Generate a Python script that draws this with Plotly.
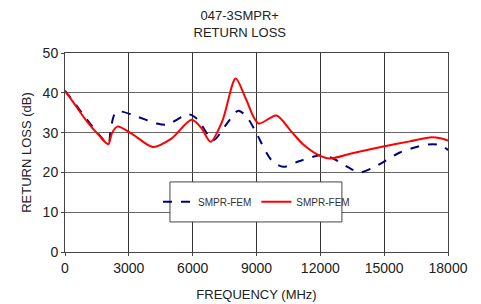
import plotly.graph_objects as go

# Data
blue_freq = [0, 300, 1000, 1600, 2035, 2150, 2350, 2600, 3300, 4300, 4800, 5800, 6200, 6970, 7500, 8150, 8600, 9000, 9700, 10260, 11000, 12000, 12600, 13300, 13860, 14700, 15740, 16600, 17300, 17700, 18000]
blue_db   = [40.5, 38.5, 33.5, 29.5, 27.1, 31.0, 34.8, 35.3, 34.2, 32.3, 32.0, 34.6, 33.5, 28.1, 31.5, 35.5, 33.5, 29.8, 23.1, 21.4, 22.8, 24.3, 23.5, 21.3, 20.0, 21.8, 25.0, 26.5, 27.1, 26.7, 25.6]
red_freq  = [0, 300, 1000, 1600, 2035, 2200, 2460, 3200, 4120, 5000, 5950, 6400, 6840, 7400, 8020, 8500, 9090, 9940, 10600, 11200, 11900, 12450, 13500, 14960, 16200, 17150, 17700, 18000]
red_db    = [40.5, 38.3, 33.0, 29.3, 27.1, 29.8, 31.5, 29.5, 26.4, 28.5, 33.2, 31.2, 27.7, 33.0, 43.6, 38.5, 32.3, 34.3, 30.5, 27.0, 24.4, 23.5, 24.8, 26.5, 27.8, 28.8, 28.5, 28.0]
x_ticks = [0, 3000, 6000, 9000, 12000, 15000, 18000]
y_ticks = [0, 10, 20, 30, 40, 50]

FONT = "Liberation Sans, Arial, sans-serif"

fig = go.Figure()
fig.add_trace(go.Scatter(x=blue_freq, y=blue_db, mode="lines", name="SMPR-FEM",
                         line=dict(color="#000080", width=2, dash="dash", shape="spline", smoothing=0.8)))
fig.add_trace(go.Scatter(x=red_freq, y=red_db, mode="lines", name="SMPR-FEM",
                         line=dict(color="#ff0000", width=2, shape="spline", smoothing=0.8)))

# legend frame
fig.add_shape(type="rect", xref="paper", yref="paper", x0=0.274, x1=0.723, y0=0.151, y1=0.352,
              line=dict(color="#444444", width=1), fillcolor="white", layer="above")

fig.update_layout(
    width=473, height=296,
    margin=dict(l=57, r=33, t=45, b=52, autoexpand=False),
    paper_bgcolor="white", plot_bgcolor="white",
    font=dict(family=FONT, color="#222222"),
    title=dict(text="047-3SMPR+<br>RETURN LOSS", xref="container", x=0.49, xanchor="center",
               yref="container", y=0.958, yanchor="top",
               font=dict(size=13, family=FONT, color="#222222")),
    showlegend=True,
    legend=dict(orientation="h", x=0.50, xanchor="center", y=0.252, yanchor="middle",
                bgcolor="rgba(0,0,0,0)", borderwidth=0, font=dict(size=10, family=FONT, color="#333333"),
                itemwidth=30, tracegroupgap=0),
    xaxis=dict(range=[0, 18000], tickvals=x_ticks, ticktext=[str(v) for v in x_ticks],
               showgrid=True, gridcolor="#333333", gridwidth=1, zeroline=False, automargin=False,
               showline=True, linecolor="#444444", linewidth=1, mirror=True,
               ticks="outside", ticklen=3, tickcolor="#444444",
               tickfont=dict(size=14, family=FONT, color="#222222"),
               title=dict(text="FREQUENCY (MHz)", font=dict(size=13, family=FONT, color="#222222"), standoff=15)),
    yaxis=dict(range=[0, 50], tickvals=y_ticks, showgrid=True, gridcolor="#666666", gridwidth=1,
               zeroline=False, showline=True, linecolor="#444444", linewidth=1, mirror=True, automargin=False,
               ticks="outside", ticklen=3, tickcolor="#444444",
               tickfont=dict(size=14, family=FONT, color="#222222"),
               title=dict(text="RETURN LOSS (dB)", font=dict(size=13, family=FONT, color="#222222"), standoff=8)),
)

fig.write_html("out.html")
